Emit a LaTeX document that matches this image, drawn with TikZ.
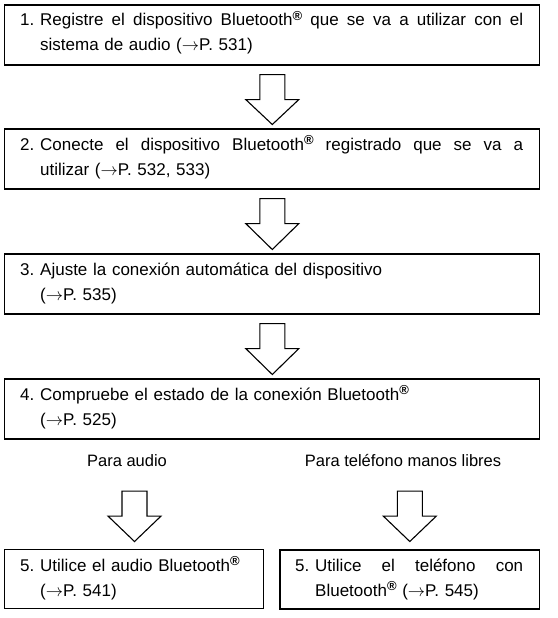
\documentclass[tikz,border=0pt]{standalone}
\usepackage{fontspec}
\setmainfont{Liberation Sans}
\usetikzlibrary{calc}
\newcommand\regm{\raisebox{5.5pt}{\fontsize{13}{13}\selectfont\bfseries ®}}
\newcommand\arrw{$\rightarrow$}
\newcommand\jline[2]{\hbox to #1{#2}}
\newcommand\hollowarrow[2]{%
  \draw[hollow] ($(#1)+(-12.5,0)$) -- ($(#1)+(12.5,0)$) -- ($(#1)+(12.5,25)$)
    -- ($(#1)+(26.5,25)$) -- (#2) -- ($(#1)+(-26.5,25)$) -- ($(#1)+(-12.5,25)$) -- cycle;}
\begin{document}
\begin{tikzpicture}[x=1pt,y=-1pt,
  box/.style={draw, line width=1.6pt, anchor=north west, inner sep=0pt, minimum height=60pt},
  thinbox/.style={box, line width=1pt},
  txt/.style={anchor=base west, inner sep=0pt, align=left, font=\fontsize{17}{25}\selectfont},
  hollow/.style={draw, line width=1.1pt, line join=miter},
  lbl/.style={anchor=base, inner sep=0pt, font=\fontsize{16.5}{20}\selectfont}]
\useasboundingbox (0,0) rectangle (557,618);

% boxes
\node[box, minimum width=535pt] (b1) at (3.5,4) {};
\node[box, minimum width=535pt] (b2) at (3.5,128) {};
\node[box, minimum width=535pt] (b3) at (3.5,253) {};
\node[box, minimum width=535pt] (b4) at (3.5,378) {};
\node[thinbox, minimum width=259.5pt, minimum height=59pt] (b5a) at (3.5,549) {};
\node[box, minimum width=259.5pt, minimum height=59pt] (b5b) at (279,549) {};

% texts
\node[txt, text width=503pt] (t1) at ($(b1.north west)+(16.5,22)$)
  {\makebox[20pt][l]{1.}\jline{483pt}{Registre\hfill el\hfill dispositivo\hfill Bluetooth\regm\hfill que\hfill se\hfill va\hfill a\hfill utilizar\hfill con\hfill el}\\
   \hspace*{20pt}sistema de audio (\arrw P. 531)};
\node[txt, text width=503pt] (t2) at ($(b2.north west)+(16.5,22)$)
  {\makebox[20pt][l]{2.}\jline{483pt}{Conecte\hfill el\hfill dispositivo\hfill Bluetooth\regm\hfill registrado\hfill que\hfill se\hfill va\hfill a}\\
   \hspace*{20pt}utilizar (\arrw P. 532, 533)};
\node[txt, text width=503pt] (t3) at ($(b3.north west)+(16.5,22)$)
  {\makebox[20pt][l]{3.}Ajuste la conexión automática del dispositivo\\
   \hspace*{20pt}(\arrw P. 535)};
\node[txt, text width=503pt] (t4) at ($(b4.north west)+(16.5,22)$)
  {\makebox[20pt][l]{4.}Compruebe el estado de la conexión Bluetooth\regm\\
   \hspace*{20pt}(\arrw P. 525)};
\node[txt, text width=240pt] (t5a) at ($(b5a.north west)+(16.5,22)$)
  {\makebox[20pt][l]{5.}Utilice el audio Bluetooth\regm\\
   \hspace*{20pt}(\arrw P. 541)};
\node[txt, text width=228pt] (t5b) at ($(b5b.north west)+(16,22)$)
  {\makebox[20pt][l]{5.}\jline{208pt}{Utilice\hfill el\hfill teléfono\hfill con}\\
   \hspace*{20pt}Bluetooth\regm{} (\arrw P. 545)};

% branch labels
\node[lbl] (l1) at (127,466) {Para audio};
\node[lbl] (l2) at (403,466) {Para teléfono manos libres};

% hollow arrows
\coordinate (a1) at ($(b1.south)+(0.5,9)$);
\coordinate (a1t) at ($(b2.north)+(0.5,-3.5)$);
\coordinate (a2) at ($(b2.south)+(0.5,9)$);
\coordinate (a2t) at ($(b3.north)+(0.5,-3.5)$);
\coordinate (a3) at ($(b3.south)+(0.5,9)$);
\coordinate (a3t) at ($(b4.north)+(0.5,-3.5)$);
\coordinate (a4) at ($(b4.south -| b5a.north)+(0.75,51.5)$);
\coordinate (a4t) at ($(b5a.north)+(0.75,-7.5)$);
\coordinate (a5) at ($(b4.south -| b5b.north)+(0.25,51.5)$);
\coordinate (a5t) at ($(b5b.north)+(0.25,-7.5)$);
\hollowarrow{a1}{a1t}
\hollowarrow{a2}{a2t}
\hollowarrow{a3}{a3t}
\hollowarrow{a4}{a4t}
\hollowarrow{a5}{a5t}
\end{tikzpicture}
\end{document}
